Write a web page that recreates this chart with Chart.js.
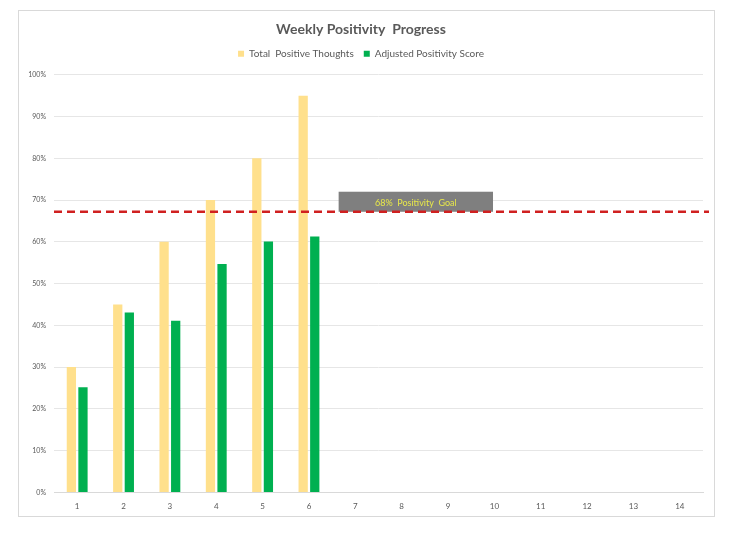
<!DOCTYPE html>
<html>
<head>
<meta charset="utf-8">
<script src="https://cdn.jsdelivr.net/npm/chart.js@4.4.1/dist/chart.umd.min.js"></script>
<style>
  body { margin: 0; background: #fff; }
  #frame {
    position: absolute; left: 18px; top: 10px;
    width: 697px; height: 507px;
    border: 1px solid #d9d9d9; box-sizing: border-box;
  }
</style>
</head>
<body>
<div id="frame"><canvas id="chart"></canvas></div>
<script>
// weekly numbers
const weeks = ["1", "2", "3", "4", "5", "6", "7", "8", "9", "10", "11", "12", "13", "14"];
const totalPositive = [30, 45, 60, 70, 80, 95];
const adjustedScore = [25.2, 43.1, 41.1, 54.7, 60.1, 61.3];
const goalValue = 67.2;
const goalLabel = "68%  Positivity  Goal";

const grey = "#595959";

// dashed goal line + grey caption box
const goalPlugin = {
  id: "goalLine",
  afterInit(chart) {
    // a bit more room under the legend
    const fit = chart.legend.fit;
    chart.legend.fit = function () {
      fit.call(this);
      this.height += 6;
    };
  },
  afterDatasetsDraw(chart) {
    const { ctx, chartArea, scales } = chart;
    const y = scales.y.getPixelForValue(goalValue);
    const top = scales.y.getPixelForValue(72);
    const bx1 = scales.x.getPixelForValue(5.64);
    const bx2 = scales.x.getPixelForValue(8.97);
    ctx.save();
    ctx.fillStyle = "#7f7f7f";
    ctx.fillRect(bx1, top, bx2 - bx1, y - top);
    ctx.fillStyle = "#e8e84a";
    ctx.font = "9px Lato";
    ctx.textAlign = "center";
    ctx.textBaseline = "middle";
    ctx.fillText(goalLabel, (bx1 + bx2) / 2, (top + y) / 2 + 1);
    ctx.strokeStyle = "#d02020";
    ctx.lineWidth = 2.5;
    ctx.setLineDash([8, 5]);
    ctx.beginPath();
    ctx.moveTo(chartArea.left, y);
    ctx.lineTo(chartArea.right + 6, y);
    ctx.stroke();
    ctx.restore();
  },
};

new Chart(document.getElementById("chart"), {
  type: "bar",
  data: {
    labels: weeks,
    datasets: [
      {
        label: "Total  Positive Thoughts",
        data: totalPositive,
        backgroundColor: "#ffe08c",
      },
      {
        label: "Adjusted Positivity Score",
        data: adjustedScore,
        backgroundColor: "#00b050",
      },
    ],
  },
  options: {
    responsive: true,
    maintainAspectRatio: false,
    animation: false,
    layout: { padding: { top: 8, right: 11, bottom: 4, left: 0 } },
    datasets: { bar: { categoryPercentage: 0.5, barPercentage: 0.8 } },
    plugins: {
      title: {
        display: true,
        text: "Weekly Positivity  Progress",
        color: grey,
        font: { family: "Lato", size: 14, weight: "bold" },
        padding: { top: 2, bottom: 1 },
      },
      legend: {
        labels: {
          color: grey,
          font: { family: "Lato", size: 10 },
          usePointStyle: true,
          pointStyle: "rect",
          boxWidth: 6,
          boxHeight: 6,
          padding: 10,
        },
      },
      tooltip: { enabled: false },
    },
    scales: {
      x: {
        grid: { display: false },
        border: { color: "#d9d9d9" },
        ticks: { color: grey, font: { family: "Lato", size: 8 }, padding: 1 },
      },
      y: {
        min: 0,
        max: 100,
        afterFit(scale) { scale.width = 35; },
        grid: { color: "#e6e6e6", drawTicks: false },
        border: { display: false },
        ticks: {
          stepSize: 10,
          color: grey,
          font: { family: "Lato", size: 7 },
          padding: 8,
          callback: (v) => v + "%",
        },
      },
    },
  },
  plugins: [goalPlugin],
});
</script>
</body>
</html>
